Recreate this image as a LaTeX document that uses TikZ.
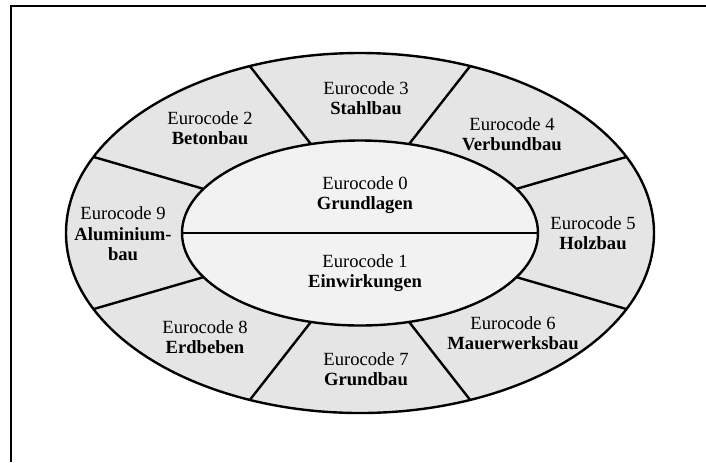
\documentclass[tikz,border=0pt]{standalone}
\usepackage{fontspec}
\setmainfont{Liberation Serif}
\tikzset{every picture/.append style={x=0.5pt,y=-0.5pt}}
\tikzset{frameline/.style={line width=1.3pt}}
\tikzset{ring/.style={draw=black, line width=1.2pt, fill=black!10}}
\tikzset{core/.style={draw=black, line width=1.2pt, fill=black!5}}
\tikzset{divider/.style={line width=1.2pt}}
\tikzset{codetext/.style={align=center, inner sep=0pt, font=\fontsize{9.3}{10.3}\selectfont}}

\begin{document}
\begin{tikzpicture}
\useasboundingbox (0,0) rectangle (706,462);
\coordinate (fb) at (11,462);
\coordinate (fc) at (11,6);
\coordinate (fr) at (706,6);
\draw[frameline] (fb) -- (fc) -- (fr);

\draw[ring] (360,233) ellipse [x radius=147pt, y radius=90pt];%outer ring
\draw[core] (360,233) ellipse [x radius=89pt, y radius=46.25pt];%inner part

\foreach \o/\i [count=\n] in {68/74, 25/28.5, -25/-28.5, -68/-74, 112/106, 155/151.5, 205/208.5, 248/254}{
  \coordinate (o\n) at ({360+294*cos(\o)},{233-180*sin(\o)});
  \coordinate (i\n) at ({360+178*cos(\i)},{233-92.5*sin(\i)});
  \draw[divider] (o\n) -- (i\n);
}
\coordinate (ml) at (182,233);
\coordinate (mr) at (538,233);
\draw[divider] (ml) -- (mr);

\node (ec0) at (365,195)[codetext]{Eurocode 0\\\textbf{Grundlagen}};
\node (ec1) at (365,273)[codetext]{Eurocode 1\\\textbf{Einwirkungen}};
\node (ec2) at (210,128)[codetext]{Eurocode 2\\\textbf{Betonbau}};
\node (ec3) at (366,98)[codetext]{Eurocode 3\\\textbf{Stahlbau}};
\node (ec4) at (512,134)[codetext]{Eurocode 4\\\textbf{Verbundbau}};
\node (ec5) at (593,233)[codetext]{Eurocode 5\\\textbf{Holzbau}};
\node (ec6) at (513,333)[codetext]{Eurocode 6\\\textbf{Mauerwerksbau}};
\node (ec7) at (366,369)[codetext]{Eurocode 7\\\textbf{Grundbau}};
\node (ec8) at (205,337)[codetext]{Eurocode 8\\\textbf{Erdbeben}};
\node (ec9) at (123,234)[codetext]{Eurocode 9\\\textbf{Aluminium-}\\\textbf{bau}};
\end{tikzpicture}
\end{document}
